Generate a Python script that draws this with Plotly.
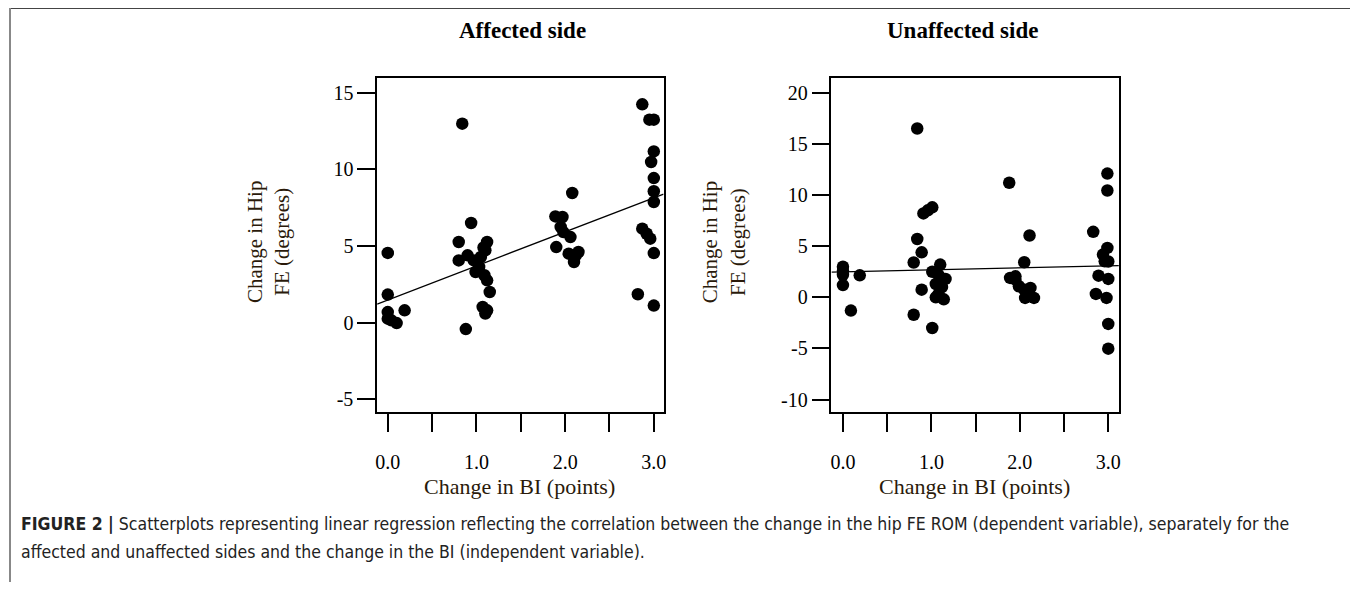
import numpy as np
import plotly.graph_objects as go

# ---------------- data ----------------
aff_x = [0.0, 0.0, 0.0, 0.0, 0.04, 0.10, 0.19,
         0.84, 0.94, 0.80, 0.80, 0.90, 0.97, 1.12, 1.10, 1.05, 1.03, 0.99, 1.09, 1.12, 1.15, 1.07, 1.10, 0.88, 1.08, 1.12,
         1.89, 1.97, 1.95, 1.98, 2.06, 2.08, 1.90, 2.04, 2.12, 2.15, 2.10,
         2.87, 2.95, 3.0, 3.0, 2.97, 3.0, 3.0, 3.0, 2.87, 2.92, 2.96, 3.0, 2.82, 3.0]
aff_y = [4.55, 1.83, 0.69, 0.26, 0.15, -0.03, 0.80,
         12.98, 6.5, 5.26, 4.06, 4.39, 4.06, 5.26, 4.72, 4.28, 3.63, 3.30, 3.09, 2.76, 2.0, 1.02, 0.59, -0.42, 4.9, 0.8,
         6.93, 6.89, 6.24, 5.91, 5.58, 8.46, 4.93, 4.5, 4.39, 4.61, 3.95,
         14.24, 13.24, 13.24, 11.17, 10.48, 9.43, 8.57, 7.87, 6.13, 5.8, 5.48, 4.54, 1.85, 1.11]

unaff_x = [0.0, 0.0, 0.0, 0.0, 0.09, 0.19,
           0.84, 0.91, 0.96, 1.01, 0.84, 0.89, 0.80, 0.89, 0.80, 1.01, 1.01, 1.10, 1.08, 1.16, 1.05, 1.08, 1.14, 1.05, 1.12,
           1.88, 2.11, 2.05, 1.89, 1.95, 1.99, 2.05, 2.08, 2.12, 2.16, 2.06, 1.95,
           2.83, 2.99, 2.99, 2.99, 2.94, 2.96, 3.0, 2.89, 3.0, 2.86, 2.98, 3.0, 3.0]
unaff_y = [3.0, 2.6, 2.2, 1.2, -1.3, 2.15,
           16.5, 8.2, 8.5, 8.8, 5.7, 4.4, 3.4, 0.75, -1.7, -3.0, 2.5, 3.2, 2.2, 1.8, 1.3, 0.3, -0.2, 0.0, 1.0,
           11.2, 6.04, 3.43, 1.9, 1.73, 1.08, 0.75, 0.26, 0.92, -0.06, -0.06, 2.05,
           6.4, 12.1, 10.44, 4.83, 4.18, 3.52, 3.5, 2.12, 1.8, 0.33, -0.06, -2.6, -5.02]

# regression lines: [intercept, slope]
fit_aff = [1.48, 2.22]
fit_unaff = [2.48, 0.20]

x_tickvals = [0, 1, 2, 3]
x_ticktext = ["0.0", "1.0", "2.0", "3.0"]
y_tickvals_l = [-5, 0, 5, 10, 15]
y_ticktext_l = ["-5", "0", "5", "10", "15"]
y_tickvals_r = [-10, -5, 0, 5, 10, 15, 20]
y_ticktext_r = ["-10", "-5", "0", "5", "10", "15", "20"]

panel_titles = ["Affected side", "Unaffected side"]
x_title = "Change in BI (points)"
y_title = "Change in Hip<br>FE (degrees)"
caption_bold = "FIGURE 2 |"
caption_line1 = " Scatterplots representing linear regression reflecting the correlation between the change in the hip FE ROM (dependent variable), separately for the"
caption_line2 = "affected and unaffected sides and the change in the BI (independent variable)."

# ---------------- layout geometry ----------------
OFF = 8  # page body margin
W, H = 1350, 574
x_range_l = [-0.12, 3.11]
x_range_r = [-0.13, 3.12]
y_range_l = [-5.83, 15.96]
y_range_r = [-11.21, 21.44]

def px(x):
    return (x - OFF) / W

def py(y):
    return 1 - (y - OFF) / H

SERIF = "Liberation Serif, Times New Roman, serif"
fig = go.Figure()

def add_panel(xs, ys, fit, xa, ya, xr):
    fig.add_trace(go.Scatter(x=xs, y=ys, mode="markers", xaxis=xa, yaxis=ya,
                             marker=dict(color="black", size=12.5, line=dict(width=0)),
                             showlegend=False, hoverinfo="skip"))
    a, b = fit
    lx = np.array(xr)
    fig.add_trace(go.Scatter(x=lx, y=a + b * lx, mode="lines", xaxis=xa, yaxis=ya,
                             line=dict(color="black", width=1.3),
                             showlegend=False, hoverinfo="skip"))

add_panel(aff_x, aff_y, fit_aff, "x", "y", x_range_l)
add_panel(unaff_x, unaff_y, fit_unaff, "x2", "y2", x_range_r)

common_x = dict(showgrid=False, zeroline=False, showline=True, mirror=True, linecolor="black",
                linewidth=1.5, ticks="outside", ticklen=18, tickwidth=1.5, tickcolor="black",
                tickmode="array", tickvals=x_tickvals, ticktext=x_ticktext, ticklabelstandoff=13,
                tickfont=dict(family=SERIF, size=20, color="black"),
                minor=dict(tick0=0, dtick=0.5, ticks="outside", ticklen=18, tickwidth=1.5, tickcolor="black"))
common_y = dict(showgrid=False, zeroline=False, showline=True, mirror=True, linecolor="black",
                linewidth=1.5, ticks="outside", ticklen=18, tickwidth=1.5, tickcolor="black",
                tickmode="array", tickfont=dict(family=SERIF, size=20, color="black"))

fig.update_layout(
    width=W, height=H, margin=dict(l=0, r=0, t=0, b=0),
    paper_bgcolor="white", plot_bgcolor="white",
    xaxis=dict(domain=[px(376.5), px(664)], range=x_range_l, anchor="y", **common_x),
    yaxis=dict(domain=[py(412), py(78)], range=y_range_l, anchor="x",
               tickvals=y_tickvals_l, ticktext=y_ticktext_l, **common_y),
    xaxis2=dict(domain=[px(832.5), px(1121)], range=x_range_r, anchor="y2", **common_x),
    yaxis2=dict(domain=[py(412), py(78)], range=y_range_r, anchor="x2",
                tickvals=y_tickvals_r, ticktext=y_ticktext_r, **common_y),
)

ann = []
for cx, t in zip([522, 964], panel_titles):
    ann.append(dict(x=px(cx), y=py(30), xref="paper", yref="paper", text="<b>" + t + "</b>",
                    showarrow=False, xanchor="center", yanchor="middle",
                    font=dict(family=SERIF, size=23, color="black")))
for cx in [519, 976]:
    ann.append(dict(x=px(cx), y=py(486), xref="paper", yref="paper", text=x_title,
                    showarrow=False, xanchor="center", yanchor="middle",
                    font=dict(family=SERIF, size=22, color="#2a1a0a")))
for cx in [267, 724]:
    ann.append(dict(x=px(cx), y=py(242), xref="paper", yref="paper", text=y_title,
                    showarrow=False, xanchor="center", yanchor="middle", textangle=-90,
                    font=dict(family=SERIF, size=21, color="#2a1a0a")))
CAP = "DejaVu Sans Condensed, Liberation Sans Narrow, Arial Narrow, sans-serif"
ann.append(dict(x=px(17), y=py(524), xref="paper", yref="paper",
                text="<b>" + caption_bold + "</b>" + caption_line1,
                showarrow=False, xanchor="left", yanchor="middle",
                font=dict(family=CAP, size=17.5, color="#222")))
ann.append(dict(x=px(17), y=py(552), xref="paper", yref="paper", text=caption_line2,
                showarrow=False, xanchor="left", yanchor="middle",
                font=dict(family=CAP, size=17.5, color="#222")))
fig.update_layout(annotations=ann)

shapes = [
    dict(type="line", xref="paper", yref="paper", x0=px(8), x1=px(1355), y0=py(8), y1=py(8),
         line=dict(color="#444", width=2)),
    dict(type="line", xref="paper", yref="paper", x0=px(8), x1=px(8), y0=py(8), y1=0,
         line=dict(color="#888", width=2)),
    dict(type="line", xref="paper", yref="paper", x0=px(1354), x1=px(1354), y0=py(8), y1=0,
         line=dict(color="#888", width=2)),
]
fig.update_layout(shapes=shapes)

fig.write_html("out.html")
